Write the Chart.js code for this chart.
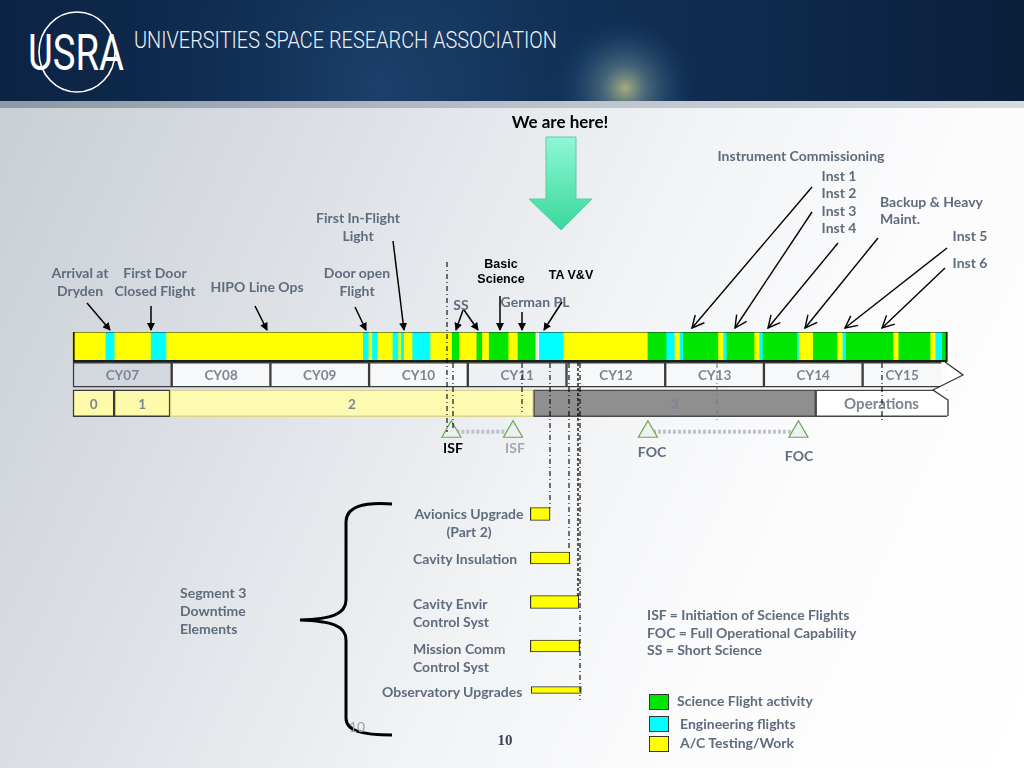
<!DOCTYPE html>
<html>
<head>
<meta charset="utf-8">
<script src="https://cdn.jsdelivr.net/npm/chart.js@4.4.1/dist/chart.umd.min.js"></script>
<style>
  body { margin:0; }
  #page { position:relative; width:1024px; height:768px; overflow:hidden;
    background: linear-gradient(115deg, #c6ccd3 0%, #dde1e6 30%, #f1f3f5 55%, #fcfcfd 75%, #ffffff 100%); }
  #header { position:absolute; left:0; top:0; width:1024px; height:110px; }
  canvas { position:absolute; left:0; }
  #timeline { top:300px; }
  #downtime { top:492px; }
  #overlay { position:absolute; left:0; top:0; }
  .note { position:absolute; font-family:Lato, "Open Sans", sans-serif; font-weight:700; font-size:14px;
    line-height:18px; color:#5e6c7d; white-space:nowrap; }
  .c { transform:translateX(-50%); text-align:center; }
  .blk { color:#000; font-family:"Liberation Sans", Arial, sans-serif; font-size:12.5px; line-height:15px; }
  .key { position:absolute; width:18px; height:14px; border:1px solid #333; }
</style>
</head>
<body>
<div id="page">
  <svg id="header" width="1024" height="110">
    <defs>
      <linearGradient id="navy" x1="0" y1="0" x2="1" y2="0">
        <stop offset="0" stop-color="#0c2444"/>
        <stop offset="0.45" stop-color="#123259"/>
        <stop offset="0.75" stop-color="#0f2a4c"/>
        <stop offset="1" stop-color="#0a1f3a"/>
      </linearGradient>
      <radialGradient id="glow" cx="625" cy="88" r="75" gradientUnits="userSpaceOnUse">
        <stop offset="0" stop-color="#d9d98a" stop-opacity="0.75"/>
        <stop offset="0.3" stop-color="#86a6a8" stop-opacity="0.45"/>
        <stop offset="0.7" stop-color="#2c5580" stop-opacity="0.25"/>
        <stop offset="1" stop-color="#123259" stop-opacity="0"/>
      </radialGradient>
      <radialGradient id="haze" cx="380" cy="85" r="260" gradientUnits="userSpaceOnUse">
        <stop offset="0" stop-color="#2a5588" stop-opacity="0.45"/>
        <stop offset="1" stop-color="#123259" stop-opacity="0"/>
      </radialGradient>
      <linearGradient id="band" x1="0" y1="0" x2="1" y2="0">
        <stop offset="0" stop-color="#8d98a5"/>
        <stop offset="0.5" stop-color="#b9c0c8"/>
        <stop offset="1" stop-color="#d6dbe0"/>
      </linearGradient>
    </defs>
    <rect x="0" y="0" width="1024" height="101" fill="url(#navy)"/>
    <rect x="0" y="0" width="1024" height="101" fill="url(#haze)"/>
    <rect x="0" y="0" width="1024" height="101" fill="url(#glow)"/>
    <rect x="0" y="101" width="1024" height="7" fill="url(#band)"/>
    <ellipse cx="77" cy="52" rx="38" ry="40" fill="none" stroke="#ffffff" stroke-width="1.6"/>
    <text x="28" y="70" fill="#ffffff" font-family="Roboto, sans-serif" font-size="50" textLength="96" lengthAdjust="spacingAndGlyphs">USRA</text>
    <text x="134" y="48" fill="#eef2f6" font-family="Roboto, sans-serif" font-weight="300" font-size="23" textLength="423" lengthAdjust="spacingAndGlyphs">UNIVERSITIES SPACE RESEARCH ASSOCIATION</text>
  </svg>

  <canvas id="timeline" width="1024" height="160"></canvas>
  <canvas id="downtime" width="1024" height="220"></canvas>

  <svg id="overlay" width="1024" height="768">
    <defs>
      <marker id="tip" markerWidth="8" markerHeight="8" refX="7" refY="4" orient="auto" markerUnits="userSpaceOnUse">
        <path d="M0,0 L8,4 L0,8 z" fill="#000"/>
      </marker>
      <marker id="vee" markerWidth="14" markerHeight="14" refX="13" refY="7" orient="auto" markerUnits="userSpaceOnUse">
        <path d="M1,1 L13,7 L1,13" fill="none" stroke="#000" stroke-width="1.4"/>
      </marker>
      <linearGradient id="mint" x1="0" y1="0" x2="0" y2="1">
        <stop offset="0" stop-color="#8ff7d6"/>
        <stop offset="1" stop-color="#38d89a"/>
      </linearGradient>
    </defs>
    <!-- we are here arrow -->
    <polygon points="546,137 576,137 576,199 592,199 561,230 529,199 546,199" fill="url(#mint)" stroke="#62c9a2" stroke-width="1"/>
    <!-- dash-dot guide lines -->
    <g stroke="#000" stroke-width="1.1" fill="none">
      <line x1="447" y1="262" x2="447" y2="432" stroke-dasharray="5,3,1,3"/>
      <line x1="453" y1="363" x2="453" y2="430" stroke-dasharray="5,3,1,3"/>
      <line x1="522" y1="363" x2="522" y2="412" stroke-dasharray="5,3,1,3"/>
      <line x1="550" y1="363" x2="550" y2="508" stroke-dasharray="5,3,1,3"/>
      <line x1="569" y1="363" x2="569" y2="551" stroke-dasharray="5,3,1,3"/>
      <line x1="578" y1="363" x2="578" y2="598" stroke-dasharray="3,2" stroke-width="1.3"/>
      <line x1="580" y1="363" x2="580" y2="700" stroke-dasharray="5,3,1,3"/>
      <line x1="717" y1="363" x2="717" y2="420" stroke-dasharray="5,3,1,3" stroke="#777"/>
      <line x1="882" y1="363" x2="882" y2="420" stroke-dasharray="5,3,1,3"/>
    </g>
    <!-- arrow head of calendar / operations rows -->
    <polyline points="945,362 963,375 933,390 948,400 948,416" fill="#ffffff" stroke="#333" stroke-width="1.3"/>
    <!-- annotation arrows -->
    <g stroke="#000" stroke-width="1.5" fill="none" marker-end="url(#tip)">
      <line x1="87" y1="303" x2="110" y2="330"/>
      <line x1="151" y1="306" x2="151" y2="330"/>
      <line x1="255" y1="306" x2="267" y2="330"/>
      <line x1="355" y1="307" x2="366" y2="330"/>
      <line x1="393" y1="241" x2="404" y2="330"/>
      <line x1="463" y1="310" x2="456" y2="330"/>
      <line x1="464" y1="310" x2="478" y2="330"/>
      <line x1="500" y1="296" x2="500" y2="330"/>
      <line x1="522" y1="312" x2="522" y2="330"/>
      <line x1="562" y1="302" x2="544" y2="330"/>
    </g>
    <g stroke="#000" stroke-width="1.4" fill="none" marker-end="url(#vee)">
      <line x1="812" y1="187" x2="692" y2="328"/>
      <line x1="812" y1="212" x2="735" y2="328"/>
      <line x1="838" y1="243" x2="768" y2="328"/>
      <line x1="878" y1="238" x2="805" y2="328"/>
      <line x1="947" y1="248" x2="845" y2="328"/>
      <line x1="945" y1="268" x2="882" y2="328"/>
    </g>
    <!-- segment 3 brace -->
    <path d="M392,504 C362,502 346,507 346,522 L346,600 C346,614 332,619 300,620 C332,621 346,626 346,640 L346,718 C346,731 362,735 392,735"
          fill="none" stroke="#000" stroke-width="3"/>
  </svg>

  <div class="note c" style="left:560px;top:111px;color:#000;font-size:17px;line-height:22px">We are here!</div>
  <div class="note c" style="left:80px;top:264px">Arrival at<br>Dryden</div>
  <div class="note c" style="left:155px;top:264px">First Door<br>Closed Flight</div>
  <div class="note c" style="left:257px;top:278px">HIPO Line Ops</div>
  <div class="note c" style="left:357px;top:264px">Door open<br>Flight</div>
  <div class="note c" style="left:358px;top:209px">First In-Flight<br>Light</div>
  <div class="note c" style="left:461px;top:296px">SS</div>
  <div class="note c" style="left:535px;top:293px">German PL</div>
  <div class="note c blk" style="left:501px;top:257px">Basic<br>Science</div>
  <div class="note c blk" style="left:571px;top:268px">TA V&amp;V</div>
  <div class="note c" style="left:801px;top:147px">Instrument Commissioning</div>
  <div class="note c" style="left:839px;top:167px;line-height:17.3px">Inst 1<br>Inst 2<br>Inst 3<br>Inst 4</div>
  <div class="note" style="left:880px;top:193px;line-height:17px">Backup &amp; Heavy<br>Maint.</div>
  <div class="note c" style="left:970px;top:227px">Inst 5</div>
  <div class="note c" style="left:970px;top:254px">Inst 6</div>

  <div class="note c" style="left:453px;top:439px;color:#000">ISF</div>
  <div class="note c" style="left:515px;top:439px;color:#a3a9b1">ISF</div>
  <div class="note c" style="left:652px;top:443px">FOC</div>
  <div class="note c" style="left:799px;top:447px">FOC</div>

  <div class="note" style="left:180px;top:584px">Segment 3<br>Downtime<br>Elements</div>
  <div class="note c" style="left:469px;top:505px">Avionics Upgrade<br>(Part 2)</div>
  <div class="note" style="left:413px;top:550px">Cavity Insulation</div>
  <div class="note" style="left:413px;top:595px">Cavity Envir<br>Control Syst</div>
  <div class="note" style="left:413px;top:640px">Mission Comm<br>Control Syst</div>
  <div class="note" style="left:382px;top:683px">Observatory Upgrades</div>

  <div class="note" style="left:647px;top:606px;line-height:17.7px">ISF = Initiation of Science Flights<br>FOC = Full Operational Capability<br>SS = Short Science</div>

  <div class="key" style="left:649px;top:694px;background:#00e600"></div>
  <div class="key" style="left:649px;top:716px;background:#00ffff"></div>
  <div class="key" style="left:649px;top:736px;background:#ffff00"></div>
  <div class="note" style="left:677px;top:692px">Science Flight activity</div>
  <div class="note" style="left:680px;top:715px">Engineering flights</div>
  <div class="note" style="left:680px;top:734px">A/C Testing/Work</div>

  <div class="note c" style="left:357px;top:718px;color:#9aa2ac;font-weight:400">10</div>
  <div class="note c" style="left:505px;top:731px;font-family:'Liberation Serif',serif;font-size:15px;color:#3c4656">10</div>
</div>

<script>
// months counted from January 2007
const FLIGHT_START = [0, 4, 5, 9.5, 11.3, 35.3, 35.9, 36.4, 37, 38.9, 39.5, 39.9, 40.2, 41.3, 43.4,
  46.1, 46.9, 49.1, 49.7, 50.6, 52.9, 54.1, 56.7, 59.6, 69.9, 72.1, 73.1, 73.8, 74.2, 78.4, 79.1,
  79.5, 82.8, 83.5, 83.9, 88, 88.2, 90, 92.9, 93.6, 94, 99.7, 100.4, 104.2, 104.9, 105.7]
const FLIGHT_END = [4, 5, 9.5, 11.3, 35.3, 35.9, 36.4, 37, 38.9, 39.5, 39.9, 40.2, 41.3, 43.4, 46.1,
  46.9, 49.1, 49.7, 50.6, 52.9, 54.1, 56.2, 59.6, 69.9, 72.1, 73.1, 73.8, 74.2, 78.4, 79.1, 79.5,
  82.8, 83.5, 83.9, 88, 88.2, 90, 92.9, 93.6, 94, 99.7, 100.4, 104.2, 104.9, 105.7, 106.3]
const FLIGHT_KIND = ['test','eng','test','eng','test','eng','test','eng','test','eng','test','eng','test','eng','test',
  'sci','test','sci','test','sci','test','sci','eng','test','sci','eng','test','eng','sci','test','eng',
  'sci','test','eng','sci','eng','test','sci','test','eng','sci','test','sci','test','eng','sci']

const YEAR_LABELS = ['CY07','CY08','CY09','CY10','CY11','CY12','CY13','CY14','CY15']
const YEAR_START = [0, 12, 24, 36, 48, 60, 72, 84, 96]
const YEAR_END = [12, 24, 36, 48, 60, 72, 84, 96, 105.6]

const PHASE_LABELS = ['0','1','2','3','Operations']
const PHASE_START = [0, 5, 11.8, 56, 90.3]
const PHASE_END = [5, 11.8, 56, 90.3, 106.3]

const ISF_MONTHS = [46.0, 53.5]
const FOC_MONTHS = [69.9, 88.2]

const TASKS = ['Avionics Upgrade (Part 2)','Cavity Insulation','Cavity Envir Control Syst','Mission Comm Control Syst','Observatory Upgrades']
const TASK_START = [55.6, 55.6, 55.6, 55.6, 55.7]
const TASK_END = [58.0, 60.4, 61.5, 61.6, 61.8]

const KINDS = {
  sci: {label:'Science Flight activity', color:'#00e600'},
  eng: {label:'Engineering flights', color:'#00ffff'},
  test: {label:'A/C Testing/Work', color:'#ffff00'}
}

// same month->pixel mapping for both charts
const X_SCALE = {type:'linear', min:-8.875, max:115.62, display:false}

const barText = {
  id: 'barText',
  afterDatasetsDraw(chart) {
    const ctx = chart.ctx
    chart.data.datasets.forEach((ds, i) => {
      if (!ds.texts) return
      chart.getDatasetMeta(i).data.forEach((bar, j) => {
        const p = bar.getProps(['x','y','base'], true)
        ctx.save()
        ctx.font = ds.textFont[j] || ds.textFont[0]
        ctx.fillStyle = ds.textColor
        ctx.textAlign = 'center'
        ctx.textBaseline = 'middle'
        ctx.fillText(ds.texts[j], (p.x + p.base) / 2, p.y + 1)
        ctx.restore()
      })
    })
  }
}

function timeline(){
    const rows = ['flights','calendar','phases','milestones']
    const datasets = []

    Object.keys(KINDS).forEach((k) => {
        const pts = []
        for (let i = 0; i < FLIGHT_KIND.length; i++){
            if (FLIGHT_KIND[i] === k) pts.push({x:[FLIGHT_START[i], FLIGHT_END[i]], y:'flights'})
        }
        datasets.push({label:KINDS[k].label, data:pts, backgroundColor:KINDS[k].color,
            borderWidth:0, barThickness:31, grouped:false, order:2})
    })

    // black frame round the flight row
    datasets.push({label:'frame', data:[{x:[0, 106.3], y:'flights'}], backgroundColor:'rgba(0,0,0,0)',
        borderColor:'#1b1b1b', borderWidth:1.3, borderSkipped:false, barThickness:31, grouped:false, order:1})

    datasets.push({label:'years', data:YEAR_LABELS.map((l, i) => ({x:[YEAR_START[i], YEAR_END[i]], y:'calendar'})),
        backgroundColor:YEAR_LABELS.map((l, i) => i === 0 ? '#d3d8de' : (i === 4 ? '#eef1f4' : '#f7f8fa')),
        borderColor:'#3a3a3a', borderWidth:1.5,
        borderSkipped:YEAR_LABELS.map((l, i) => i === YEAR_LABELS.length - 1 ? 'right' : false),
        barThickness:25, grouped:false, order:2,
        texts:YEAR_LABELS, textFont:['bold 13.5px Lato, sans-serif'], textColor:'#7c8592'})

    datasets.push({label:'phases', data:PHASE_LABELS.map((l, i) => ({x:[PHASE_START[i], PHASE_END[i]], y:'phases'})),
        backgroundColor:['#fdfbaa','#fdfbaa','#fdfbb2','#8f8f8f','#ffffff'],
        borderColor:['#3a3a3a','#3a3a3a','#d9d48a','#4a4a4a','#444444'], borderWidth:1.5,
        borderSkipped:PHASE_LABELS.map((l, i) => i === PHASE_LABELS.length - 1 ? 'right' : false),
        barThickness:27, grouped:false, order:2,
        texts:PHASE_LABELS, textFont:['bold 13.5px Lato, sans-serif','bold 13.5px Lato, sans-serif','bold 13.5px Lato, sans-serif','bold 13.5px Lato, sans-serif','bold 15px Lato, sans-serif'],
        textColor:'#7c8592'})

    const milestone = (months, label) => ({
        type:'line', label:label, data:months.map((m) => ({x:m, y:'milestones'})),
        borderColor:'rgba(176,186,198,0.85)', borderWidth:4, borderDash:[3,2],
        pointStyle:'triangle', pointRadius:11, pointBackgroundColor:'#eef0f2',
        pointBorderColor:'#6aa84f', pointBorderWidth:1.2, order:0
    })
    datasets.push(milestone(ISF_MONTHS, 'ISF'))
    datasets.push(milestone(FOC_MONTHS, 'FOC'))

    new Chart(document.getElementById('timeline'), {
        type:'bar',
        data:{labels:rows, datasets:datasets},
        options:{
            indexAxis:'y', responsive:false, animation:false,
            layout:{autoPadding:false, padding:{left:0, right:0, top:32, bottom:14}},
            plugins:{legend:{display:false}, tooltip:{enabled:false}},
            scales:{x:X_SCALE, y:{type:'category', display:false}}
        },
        plugins:[barText]
    })
}

function downtime(){
    const thick = [13, 12, 13, 12, 7]
    const datasets = TASKS.map((t, i) => ({
        label:t, data:[{x:[TASK_START[i], TASK_END[i]], y:t}],
        backgroundColor:'#ffff00', borderColor:'#333', borderWidth:1.2, borderSkipped:false,
        barThickness:thick[i], grouped:false
    }))
    new Chart(document.getElementById('downtime'), {
        type:'bar',
        data:{labels:TASKS, datasets:datasets},
        options:{
            indexAxis:'y', responsive:false, animation:false,
            layout:{autoPadding:false},
            plugins:{legend:{display:false}, tooltip:{enabled:false}},
            scales:{x:X_SCALE, y:{type:'category', display:false}}
        }
    })
}

timeline()
downtime()
</script>
</body>
</html>
